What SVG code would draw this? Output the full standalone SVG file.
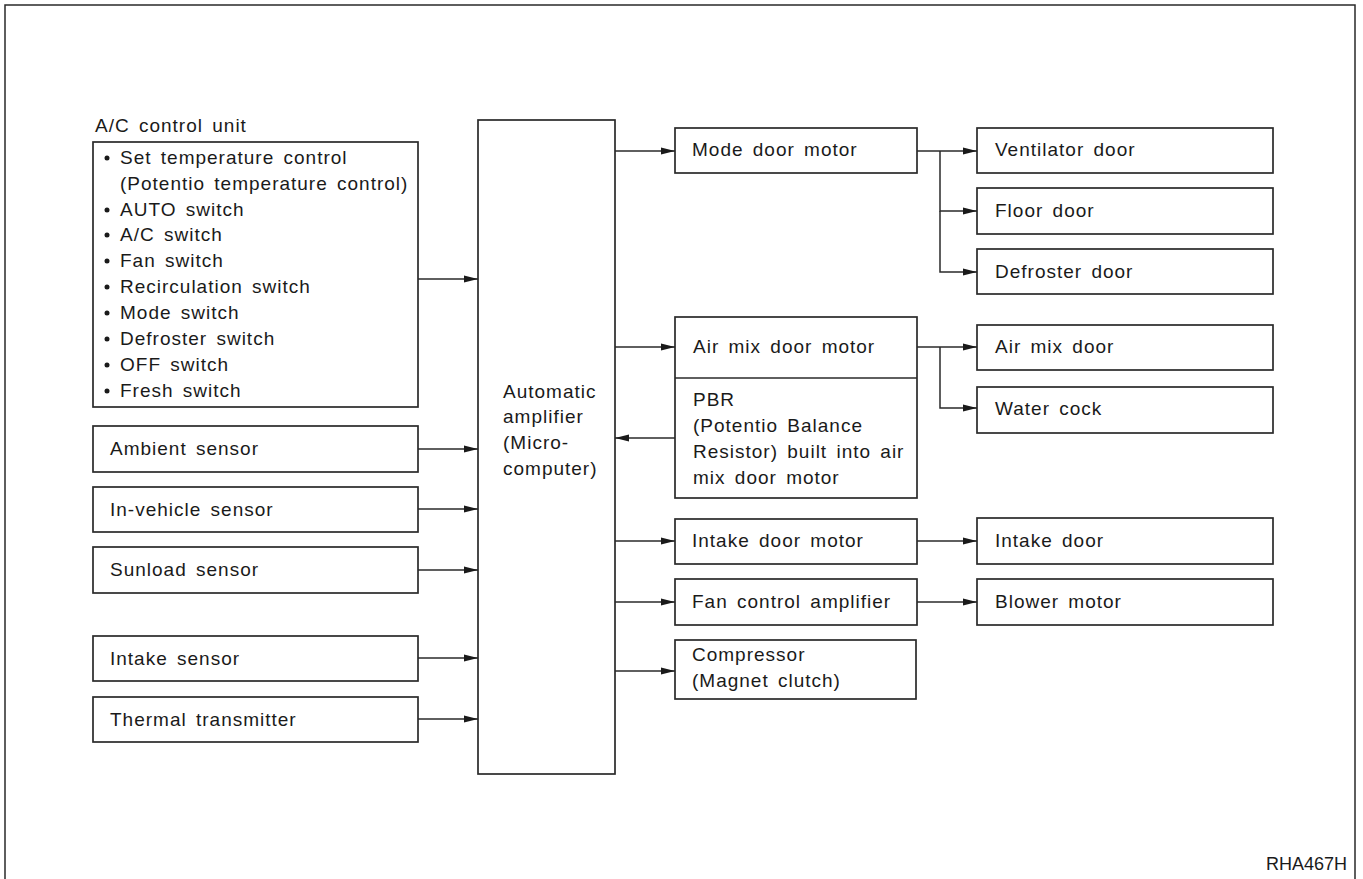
<svg xmlns="http://www.w3.org/2000/svg" width="1363" height="879" viewBox="0 0 1363 879">
<defs>
<style>
.b{fill:#fff;stroke:#2a2a2a;stroke-width:1.7}
.c{fill:none;stroke:#2a2a2a;stroke-width:1.5}
text{font-family:"Liberation Sans",Arial,sans-serif;font-size:19px;fill:#1a1a1a;letter-spacing:1px;word-spacing:3px}
.id{font-size:18px;letter-spacing:0;word-spacing:0;text-anchor:end}
</style>
<marker id="ah" markerUnits="userSpaceOnUse" markerWidth="15" markerHeight="9" refX="14" refY="4.5" orient="auto">
<path d="M0,1 L14,4.5 L0,8 Z" fill="#1a1a1a"/>
</marker>
</defs>
<rect width="1363" height="879" fill="#fff"/>
<path d="M5,885 V5 H1355 V885" class="c"/>

<g id="acunit">
<text x="95" y="132">A/C control unit</text>
<rect class="b" x="93" y="142" width="325" height="265"/>
<g fill="#1a1a1a"><circle cx="107" cy="158" r="2.5"/><circle cx="107" cy="210" r="2.5"/><circle cx="107" cy="235" r="2.5"/><circle cx="107" cy="261" r="2.5"/><circle cx="107" cy="287" r="2.5"/><circle cx="107" cy="313" r="2.5"/><circle cx="107" cy="339" r="2.5"/><circle cx="107" cy="365" r="2.5"/><circle cx="107" cy="391" r="2.5"/></g>
<text x="120" y="164">Set temperature control</text>
<text x="120" y="190">(Potentio temperature control)</text>
<text x="120" y="216">AUTO switch</text>
<text x="120" y="241">A/C switch</text>
<text x="120" y="267">Fan switch</text>
<text x="120" y="293">Recirculation switch</text>
<text x="120" y="319">Mode switch</text>
<text x="120" y="345">Defroster switch</text>
<text x="120" y="371">OFF switch</text>
<text x="120" y="397">Fresh switch</text>
</g>
<g id="ambient"><rect class="b" x="93" y="426" width="325" height="46"/><text x="110" y="455">Ambient sensor</text></g>
<g id="invehicle"><rect class="b" x="93" y="487" width="325" height="45"/><text x="110" y="516">In-vehicle sensor</text></g>
<g id="sunload"><rect class="b" x="93" y="547" width="325" height="46"/><text x="110" y="576">Sunload sensor</text></g>
<g id="intakesensor"><rect class="b" x="93" y="636" width="325" height="45"/><text x="110" y="665">Intake sensor</text></g>
<g id="thermal"><rect class="b" x="93" y="697" width="325" height="45"/><text x="110" y="726">Thermal transmitter</text></g>

<g id="amp"><rect class="b" x="478" y="120" width="137" height="654"/>
<text x="503" y="398">Automatic</text><text x="503" y="423">amplifier</text><text x="503" y="449">(Micro-</text><text x="503" y="475">computer)</text></g>

<g id="modemotor"><rect class="b" x="675" y="128" width="242" height="45"/><text x="692" y="156">Mode door motor</text></g>
<g id="airmixmotor"><rect class="b" x="675" y="317" width="242" height="181"/><line class="b" x1="675" y1="378" x2="917" y2="378"/>
<text x="693" y="353">Air mix door motor</text>
<text x="693" y="406">PBR</text><text x="693" y="432">(Potentio Balance</text><text x="693" y="458">Resistor) built into air</text><text x="693" y="484">mix door motor</text></g>
<g id="intakemotor"><rect class="b" x="675" y="519" width="242" height="45"/><text x="692" y="547">Intake door motor</text></g>
<g id="fanamp"><rect class="b" x="675" y="579" width="242" height="46"/><text x="692" y="608">Fan control amplifier</text></g>
<g id="compressor"><rect class="b" x="675" y="640" width="241" height="59"/><text x="692" y="661">Compressor</text><text x="692" y="687">(Magnet clutch)</text></g>

<g id="ventdoor"><rect class="b" x="977" y="128" width="296" height="45"/><text x="995" y="156">Ventilator door</text></g>
<g id="floordoor"><rect class="b" x="977" y="188" width="296" height="46"/><text x="995" y="217">Floor door</text></g>
<g id="defdoor"><rect class="b" x="977" y="249" width="296" height="45"/><text x="995" y="278">Defroster door</text></g>
<g id="airmixdoor"><rect class="b" x="977" y="325" width="296" height="45"/><text x="995" y="353">Air mix door</text></g>
<g id="watercock"><rect class="b" x="977" y="387" width="296" height="46"/><text x="995" y="415">Water cock</text></g>
<g id="intakedoor"><rect class="b" x="977" y="518" width="296" height="46"/><text x="995" y="547">Intake door</text></g>
<g id="blower"><rect class="b" x="977" y="579" width="296" height="46"/><text x="995" y="608">Blower motor</text></g>

<g id="connectors" class="c" marker-end="url(#ah)">
<line x1="418" y1="279" x2="478" y2="279"/>
<line x1="418" y1="449" x2="478" y2="449"/>
<line x1="418" y1="509" x2="478" y2="509"/>
<line x1="418" y1="570" x2="478" y2="570"/>
<line x1="418" y1="658" x2="478" y2="658"/>
<line x1="418" y1="719" x2="478" y2="719"/>
<line x1="615" y1="151" x2="675" y2="151"/>
<line x1="615" y1="347" x2="675" y2="347"/>
<line x1="675" y1="438" x2="615" y2="438"/>
<line x1="615" y1="541" x2="675" y2="541"/>
<line x1="615" y1="602" x2="675" y2="602"/>
<line x1="615" y1="671" x2="675" y2="671"/>
<line x1="917" y1="151" x2="977" y2="151"/>
<path d="M940,151 V211 H977"/>
<path d="M940,211 V272 H977"/>
<line x1="917" y1="347" x2="977" y2="347"/>
<path d="M940,347 V408 H977"/>
<line x1="917" y1="541" x2="977" y2="541"/>
<line x1="917" y1="602" x2="977" y2="602"/>
</g>
<text class="id" x="1347" y="870">RHA467H</text>
</svg>
